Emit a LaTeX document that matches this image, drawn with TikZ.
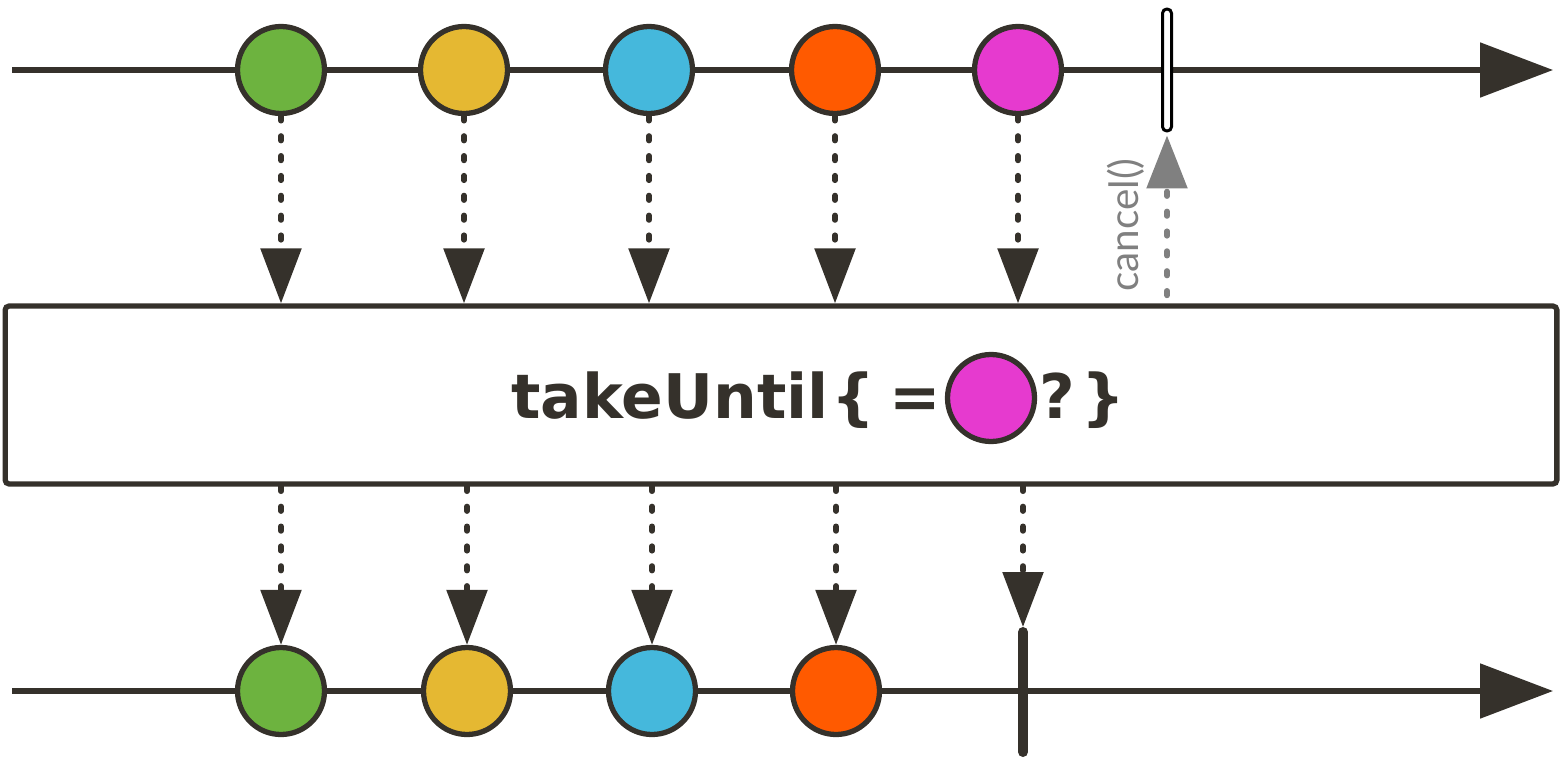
\documentclass[tikz,border=0pt]{standalone}
\usepackage{fontspec}
\setmainfont{Lato}
\newfontfamily\opfont{DejaVu Sans}
\usetikzlibrary{arrows.meta}
\definecolor{ink}{HTML}{35312B}
\definecolor{m-green}{HTML}{6DB33F}
\definecolor{m-yellow}{HTML}{E5B832}
\definecolor{m-blue}{HTML}{45B8DC}
\definecolor{m-orange}{HTML}{FF5A00}
\definecolor{m-pink}{HTML}{E63ACF}
\definecolor{m-gray}{HTML}{808080}

\begin{document}
\begin{tikzpicture}[x=0.02cm, y=-0.02cm,
    marble/.style={circle, draw=ink, line width=3pt, minimum size=1.74cm, inner sep=0pt},
    timeline/.style={draw=ink, line width=3pt, -{Triangle[length=1.46cm, width=1.08cm]}},
    flow/.style={draw=ink, line width=3.2pt, line cap=round, dash pattern=on 2.6pt off 8.7pt,
      -{Triangle[length=1.1cm, width=0.8cm]}},
    optext/.style={font=\opfont\fontsize{35}{40}\selectfont\bfseries, text=ink, inner sep=0pt}]
  \useasboundingbox (0,0) rectangle (1564,757);

  % source timeline
  \coordinate (src-start) at (12,70);
  \coordinate (src-end) at (1553,70);
  \draw[timeline] (src-start) -- (src-end);
  \node[draw=black, fill=white, line width=1.7pt, rounded corners=0.085cm,
    minimum width=0.18cm, minimum height=2.44cm, inner sep=0pt] (cancelbar) at (1167,70) {};
  \node[marble, fill=m-green]  (t1) at (281,70) {};
  \node[marble, fill=m-yellow] (t2) at (464,70) {};
  \node[marble, fill=m-blue]   (t3) at (649,70) {};
  \node[marble, fill=m-orange] (t4) at (835,70) {};
  \node[marble, fill=m-pink]   (t5) at (1018,70) {};

  % operator box
  \node[draw=ink, line width=3pt, rounded corners=0.08cm, minimum width=31.04cm,
    minimum height=3.56cm] (op) at (781,395) {};
  \node[optext, anchor=base east] (oplabel) at (829,418) {takeUntil};
  \node[optext, anchor=base] (opopen) at (853,418) {\{};
  \node[optext, anchor=base] (opeq) at (915,418) {=};
  \node[marble, fill=m-pink] (pick) at (991,398) {};
  \node[optext, anchor=base] (opq) at (1057,418) {?};
  \node[optext, anchor=base] (opclose) at (1103,418) {\}};

  % result timeline
  \coordinate (res-start) at (12,691);
  \coordinate (res-end) at (1553,691);
  \draw[timeline] (res-start) -- (res-end);
  \coordinate (halt) at (1023,632);
  \draw[ink, line width=5.7pt, line cap=round] (halt) -- (1023,752);
  \node[marble, fill=m-green]  (b1) at (281,691) {};
  \node[marble, fill=m-yellow] (b2) at (467,691) {};
  \node[marble, fill=m-blue]   (b3) at (652,691) {};
  \node[marble, fill=m-orange] (b4) at (836,691) {};

  % into the operator
  \foreach \i in {1,...,5}
    \draw[flow] (t\i.south) -- (t\i.south |- op.north);
  % out of the operator
  \foreach \i in {1,...,4}
    \draw[flow] (b\i.north |- op.south) -- (b\i.north);
  \draw[flow] (halt |- op.south) -- ([yshift=0.1cm]halt);

  % cancel back upstream
  \draw[m-gray, line width=3.2pt, line cap=round, dash pattern=on 2.6pt off 8.7pt,
    -{Triangle[length=1.06cm, width=0.8cm]}] ([yshift=0.16cm]cancelbar.south |- op.north) -- ([yshift=-0.06cm]cancelbar.south);
  \node[rotate=90, text=m-gray, font=\fontsize{23}{28}\selectfont, inner sep=0pt] (cancel) at (1126,225) {cancel()};
\end{tikzpicture}
\end{document}
